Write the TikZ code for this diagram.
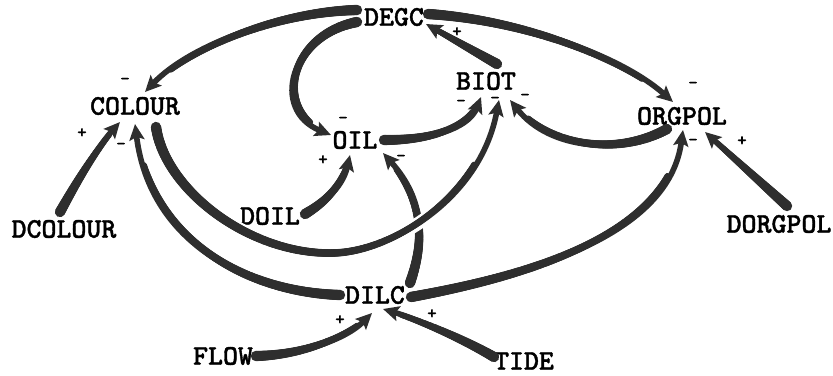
\documentclass[tikz,border=0pt]{standalone}
\usepackage{fontspec}
\newfontfamily\typew[FakeBold=1.2]{lmmonolt10-bold.otf}
\usetikzlibrary{arrows.meta,decorations.markings}
\definecolor{ink}{gray}{0.18}
\tikzset{
  word/.style={font=\fontsize{28.5}{30}\selectfont\typew, inner sep=0pt, text=black},
  sign/.style={font=\fontsize{18}{18}\selectfont\typew, inner sep=0pt, text=black},
  % causal link: thick at the tail, thinning towards a solid head
  link/.style={draw=ink, line width=5.6pt, -{Stealth[length=16pt,width=15pt,inset=3pt]},
    postaction={decorate,decoration={markings,
      mark=between positions 0 and 0.85 step 0.8pt with {
        \pgfmathsetmacro\tr{2.8+2.4*(1-\pgfkeysvalueof{/pgf/decoration/mark info/distance from start}/(0.85*\pgfdecoratedpathlength))}
        \fill[ink] (0,0) circle[radius=\tr pt];}}}},
  halo/.style={preaction={draw=white, line width=13pt}},
}
\begin{document}
\begin{tikzpicture}[x=1pt,y=-1pt]
\useasboundingbox (0,0) rectangle (833,375);

% variables
\node[word] (degc)    at (394,17)  {DEGC};
\node[word] (colour)  at (135,106) {COLOUR};
\node[word] (biot)    at (486,81)  {BIOT};
\node[word] (oil)     at (355,140) {OIL};
\node[word] (orgpol)  at (682,116) {ORGPOL};
\node[word] (dcolour) at (64,229)  {DCOLOUR};
\node[word] (doil)    at (270,216) {DOIL};
\node[word] (dorgpol) at (779,224) {DORGPOL};
\node[word] (dilc)    at (375,295) {DILC};
\node[word] (flow)    at (223,356) {FLOW};
\node[word] (tide)    at (524,361) {TIDE};

% dilution acts on oil, crossed later by the colour loop
\draw[link] ([shift={(35,-12)}]dilc.center) .. controls (425,240) and (425,200) .. ([shift={(28,13)}]oil.center);
\draw[link,halo] ([shift={(21,21)}]colour.center) .. controls (165,190) and (250,255) .. (333,253)
   .. controls (390,252) and (480,200) .. ([shift={(13,19)}]biot.center);

% remaining links
\draw[link] ([shift={(-37,-7)}]degc.center) .. controls (280,12) and (190,45) .. ([shift={(10,-14)}]colour.center);
\draw[link] ([shift={(-37,5)}]degc.center) .. controls (290,35) and (270,110) .. ([shift={(-24,-5)}]oil.center);
\draw[link] ([shift={(34,-3)}]degc.center) .. controls (520,20) and (620,55) .. ([shift={(-9,-14)}]orgpol.center);
\draw[link] ([shift={(11,-17)}]biot.center) -- ([shift={(32,7)}]degc.center);
\draw[link] ([shift={(29,0)}]oil.center) .. controls (440,140) and (470,125) .. ([shift={(-5,16)}]biot.center);
\draw[link] ([shift={(-35,0)}]dilc.center) .. controls (250,292) and (150,245) .. ([shift={(0,18)}]colour.center);
\draw[link] ([shift={(36,2)}]dilc.center) .. controls (560,270) and (670,225) .. ([shift={(1,14)}]orgpol.center);
\draw[link] ([shift={(-15,13)}]orgpol.center) .. controls (620,155) and (550,150) .. ([shift={(24,19)}]biot.center);
\draw[link] ([shift={(-4,-17)}]dcolour.center) .. controls (75,185) and (95,150) .. ([shift={(-15,16)}]colour.center);
\draw[link] ([shift={(35,-2)}]doil.center) .. controls (320,205) and (342,190) .. ([shift={(-5,15)}]oil.center);
\draw[link] ([shift={(8,-18)}]dorgpol.center) -- ([shift={(23,16)}]orgpol.center);
\draw[link] ([shift={(33,0)}]flow.center) .. controls (300,355) and (345,340) .. ([shift={(-3,18)}]dilc.center);
\draw[link] ([shift={(-30,-4)}]tide.center) .. controls (465,340) and (420,320) .. ([shift={(8,14)}]dilc.center);

% polarities
\node[sign] (s1)  at (125,81)  {-};
\node[sign] (s2)  at (82,133)  {+};
\node[sign] (s3)  at (121,146) {-};
\node[sign] (s4)  at (343,120) {-};
\node[sign] (s5)  at (323,160) {+};
\node[sign] (s6)  at (401,158) {-};
\node[sign] (s7)  at (457,32)  {+};
\node[sign] (s8)  at (461,103) {-};
\node[sign] (s9)  at (495,100) {-};
\node[sign] (s10) at (525,97)  {-};
\node[sign] (s11) at (693,85)  {-};
\node[sign] (s12) at (693,142) {-};
\node[sign] (s13) at (742,141) {+};
\node[sign] (s14) at (340,320) {+};
\node[sign] (s15) at (432,314) {+};
\end{tikzpicture}
\end{document}
